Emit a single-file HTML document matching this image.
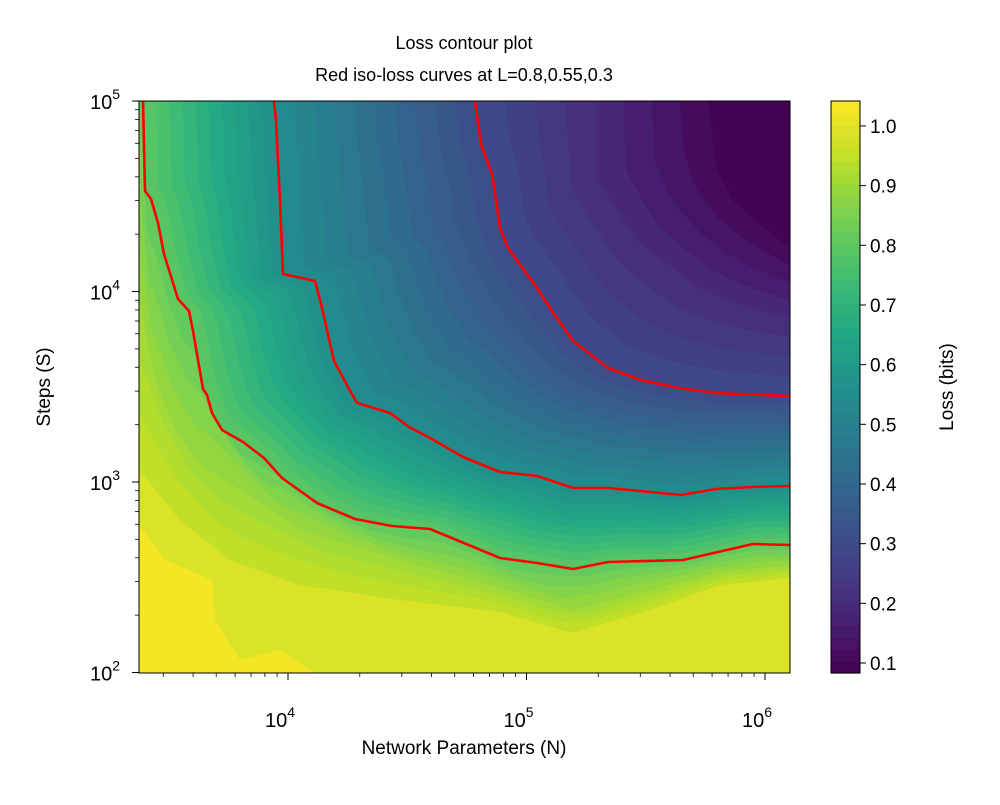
<!DOCTYPE html>
<html><head><meta charset="utf-8"><style>
body{margin:0;background:#fff;}
svg text{font-family:"Liberation Sans",sans-serif;fill:#000;}
</style></head><body>
<svg id="s" width="1000" height="800" xmlns="http://www.w3.org/2000/svg">
<g id="plot"></g>
<g id="ax"></g>
</svg>
<script>
const NS="http://www.w3.org/2000/svg";
const plot=document.getElementById('plot'),ax=document.getElementById('ax');
function el(p,t,a,txt){const e=document.createElementNS(NS,t);for(const k in a)e.setAttribute(k,a[k]);if(txt!==undefined)e.textContent=txt;p.appendChild(e);return e;}
const V=[[0,'#440154'],[0.1,'#482475'],[0.2,'#414487'],[0.3,'#355f8d'],[0.4,'#2a788e'],[0.5,'#21918c'],[0.6,'#22a884'],[0.7,'#44bf70'],[0.8,'#7ad151'],[0.9,'#bddf26'],[1,'#fde725']];
function hx(h){return [1,3,5].map(i=>parseInt(h.substr(i,2),16));}
function vir(t){t=Math.max(0,Math.min(1,t));for(let i=0;i<V.length-1;i++){if(t<=V[i+1][0]){const f=(t-V[i][0])/0.1,a=hx(V[i][1]),b=hx(V[i+1][1]);return 'rgb('+a.map((v,j)=>Math.round(v+(b[j]-v)*f)).join(',')+')';}}return V[10][1];}
const L0=0.083,L1=1.042;
function col(L){return vir((L-L0)/(L1-L0));}
const X0=139,X1=790,Y0=101,Y1=673;
const cp=el(plot,'clipPath',{id:'cp'});el(cp,'rect',{x:X0,y:Y0,width:X1-X0,height:Y1-Y0});
const g=el(plot,'g',{'clip-path':'url(#cp)'});
el(g,'rect',{x:X0,y:Y0,width:X1-X0,height:Y1-Y0,fill:col(0.99)});
el(g,'polygon',{points:'139,525 165,560 212,580 215,620 240,660 280,650 315,673 139,673',fill:col(1.025)});
const curves=[
[0.96,[[139,470],[180,520],[230,560],[300,585],[400,600],[500,612],[573,633],[650,610],[720,585],[790,578]]],
[0.9,[[139,300],[155,380],[175,430],[200,465],[240,490],[300,530],[400,560],[500,588],[573,610],[650,590],[720,572],[790,565]]],
[0.8,[[143,101],[145,191],[151,199],[158,223],[164,254],[178,299],[189,311],[193,331],[203,389],[207,395],[212,413],[222,430],[243,442],[264,458],[282,478],[317,503],[355,519],[392,526],[430,529],[500,558],[537,563],[573,569],[608,562],[683,560],[753,544],[790,545]]],
[0.55,[[274,101],[276,121],[280,201],[283,274],[315,281],[322,308],[334,361],[349,389],[357,403],[390,413],[409,427],[430,438],[463,457],[500,472],[537,476],[573,488],[608,488],[681,495],[716,489],[753,487],[790,486]]],
[0.3,[[475,101],[481,144],[492,174],[500,228],[508,248],[537,288],[554,314],[573,341],[608,368],[641,380],[679,388],[716,393],[790,396]]],
[0.2,[[596,101],[596,178],[637,241],[699,288],[740,305],[790,318]]],
[0.1,[[708,101],[716,168],[733,201],[760,225],[790,248]]]
];
const N=120;
function resample(p){const d=[0];for(let i=1;i<p.length;i++)d.push(d[i-1]+Math.hypot(p[i][0]-p[i-1][0],p[i][1]-p[i-1][1]));const T=d[d.length-1],o=[];let j=0;for(let k=0;k<=N;k++){const s=T*k/N;while(j<p.length-2&&d[j+1]<s)j++;const f=(s-d[j])/((d[j+1]-d[j])||1);o.push([p[j][0]+(p[j+1][0]-p[j][0])*f,p[j][1]+(p[j+1][1]-p[j][1])*f]);}return o;}
const R=curves.map(c=>[c[0],resample(c[1])]);
function fillCurve(pts,L){const P=pts.concat([[790,101],[139,101]]);el(g,'polygon',{points:P.map(p=>p[0].toFixed(1)+','+p[1].toFixed(1)).join(' '),fill:col(L)});}
for(let k=0;k<R.length-1;k++){const [La,A]=R[k],[Lb,B]=R[k+1];const M=Math.max(3,Math.round((La-Lb)/0.025));for(let s=0;s<M;s++){const f=s/M;const P=A.map((p,i)=>[p[0]+(B[i][0]-p[0])*f,p[1]+(B[i][1]-p[1])*f]);const L=La+(Lb-La)*f;fillCurve(P,L-(La-Lb)/M/2);}}
fillCurve(R[R.length-1][1],0.09);
for(const c of curves){if(c[0]==0.8||c[0]==0.55||c[0]==0.3)el(g,'polyline',{points:c[1].map(p=>p.join(',')).join(' '),fill:'none',stroke:'#ff0000','stroke-width':2.6,'stroke-linejoin':'round'});}
el(ax,'rect',{x:X0,y:Y0,width:X1-X0,height:Y1-Y0,fill:'none',stroke:'#000','stroke-width':1});
const xp=n=>288+(Math.log10(n)-4)*238.5, yp=s=>482-(Math.log10(s)-3)*190.5;
for(let e=3;e<=6;e++)for(let m=1;m<10;m++){const v=m*Math.pow(10,e),x=xp(v);if(x<X0-0.5||x>X1+0.5)continue;const L=m==1?7:4;el(ax,'line',{x1:x,y1:Y1,x2:x,y2:Y1+L,stroke:'#000','stroke-width':m==1?1:0.8});if(m==1){const t=el(ax,'text',{x:x-8,y:Y1+54,'font-size':20,'text-anchor':'middle'},'10');el(t,'tspan',{dy:-10,'font-size':14},String(e));}}
for(let e=2;e<=5;e++)for(let m=1;m<10;m++){const v=m*Math.pow(10,e),y=yp(v);if(y<Y0-0.5||y>Y1+0.5)continue;const L=m==1?7:4;el(ax,'line',{x1:X0-L,y1:y,x2:X0,y2:y,stroke:'#000','stroke-width':m==1?1:0.8});if(m==1){const t=el(ax,'text',{x:X0-19,y:y+8,'font-size':20,'text-anchor':'end'},'10');el(t,'tspan',{dy:-10,'font-size':14},String(e));}}
el(ax,'text',{x:464,y:754,'font-size':19,'text-anchor':'middle'},'Network Parameters (N)');
el(ax,'text',{x:0,y:0,'font-size':19,'text-anchor':'middle',transform:'translate(50,387) rotate(-90)'},'Steps (S)');
el(ax,'text',{x:464,y:49,'font-size':18,'text-anchor':'middle'},'Loss contour plot');
el(ax,'text',{x:464,y:81,'font-size':18,'text-anchor':'middle'},'Red iso-loss curves at L=0.8,0.55,0.3');
const CX=831,CW=29;
for(let i=0;i<48;i++){const L=L0+(L1-L0)*(i+0.5)/48,y0=Y1-(i+1)*(Y1-Y0)/48;el(ax,'rect',{x:CX,y:y0,width:CW,height:(Y1-Y0)/48+0.6,fill:col(L)});}
el(ax,'rect',{x:CX,y:Y0,width:CW,height:Y1-Y0,fill:'none',stroke:'#000','stroke-width':1});
for(let i=1;i<=10;i++){const v=i/10,y=663-(v-0.1)*596.7;el(ax,'line',{x1:CX+CW,y1:y,x2:CX+CW+6,y2:y,stroke:'#000'});el(ax,'text',{x:CX+CW+10,y:y+7,'font-size':19},v.toFixed(1));}
el(ax,'text',{x:0,y:0,'font-size':19,'text-anchor':'middle',transform:'translate(953,387) rotate(-90)'},'Loss (bits)');
</script>
</body></html>
